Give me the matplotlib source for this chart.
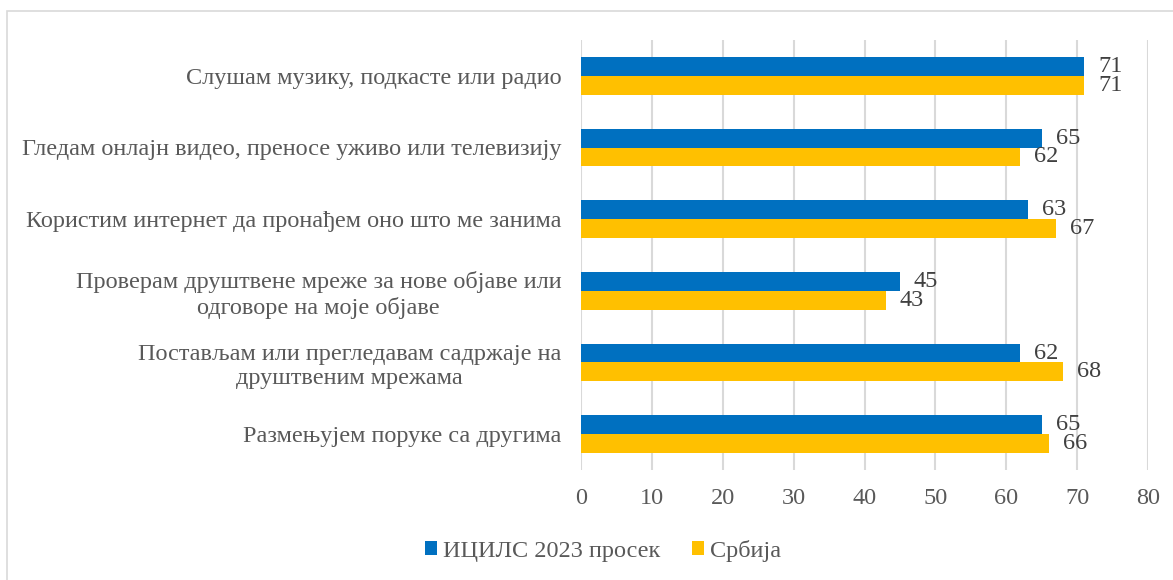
import matplotlib.pyplot as plt
from matplotlib.patches import Rectangle

categories = [
    'Слушам музику, подкасте или радио',
    'Гледам онлајн видео, преносе уживо или телевизију',
    'Користим интернет да пронађем оно што ме занима',
    'Проверам друштвене мреже за нове објаве или\nодговоре на моје објаве',
    'Постављам или прегледавам садржаје на\nдруштвеним мрежама',
    'Размењујем поруке са другима',
]
icils_avg = [71, 65, 63, 45, 62, 65]
serbia = [71, 62, 67, 43, 68, 66]
series_names = ['ИЦИЛС 2023 просек', 'Србија']

blue = '#0070C0'
gold = '#FFC000'
text_gray = '#595959'
fs = 17.5

plt.rcParams['font.family'] = ['Liberation Serif', 'DejaVu Serif']

fig = plt.figure(figsize=(11.73, 5.8), dpi=100)
ax = fig.add_axes([581 / 1173, 1 - 470 / 580, (1148 - 581) / 1173, 430 / 580])

# thin frame around the chart area
fig.patches.append(Rectangle((7 / 1173, -0.1), 1.2, 1 - 11 / 580 + 0.1,
                             transform=fig.transFigure, fill=False,
                             edgecolor='#D9D9D9', linewidth=1.2))

h = 0.264
ypos = list(range(len(categories)))
b1 = ax.barh([y - h / 2 for y in ypos], icils_avg, height=h, color=blue,
             label=series_names[0])
b2 = ax.barh([y + h / 2 for y in ypos], serbia, height=h, color=gold,
             label=series_names[1])

for bars, vals in ((b1, icils_avg), (b2, serbia)):
    for bar, v in zip(bars, vals):
        ax.annotate(str(v), (v, bar.get_y() + bar.get_height() / 2),
                    xytext=(14, 0), textcoords='offset pixels',
                    ha='left', va='center', fontsize=fs, color='#404040')

ax.set_xlim(0, 80)
ax.set_ylim(len(categories) - 0.5, -0.5)
ax.set_xticks(range(0, 81, 10))
ax.set_yticks(ypos)
ax.set_yticklabels(categories, multialignment='center')
ax.tick_params(axis='both', length=0, labelsize=fs, colors=text_gray)
ax.tick_params(axis='x', pad=13)
ax.tick_params(axis='y', pad=14)
ax.grid(axis='x', color='#D9D9D9', linewidth=1.5)
ax.set_axisbelow(True)
for s in ax.spines.values():
    s.set_visible(False)

leg = fig.legend(handles=[b1, b2], loc='center', bbox_to_anchor=(603 / 1173, 1 - 551 / 580),
                 ncol=2, frameon=False, fontsize=fs, handlelength=0.5,
                 handleheight=0.5, handletextpad=0.25, columnspacing=1.3)
for t in leg.get_texts():
    t.set_color(text_gray)

fig.savefig('out.png', dpi=100)
